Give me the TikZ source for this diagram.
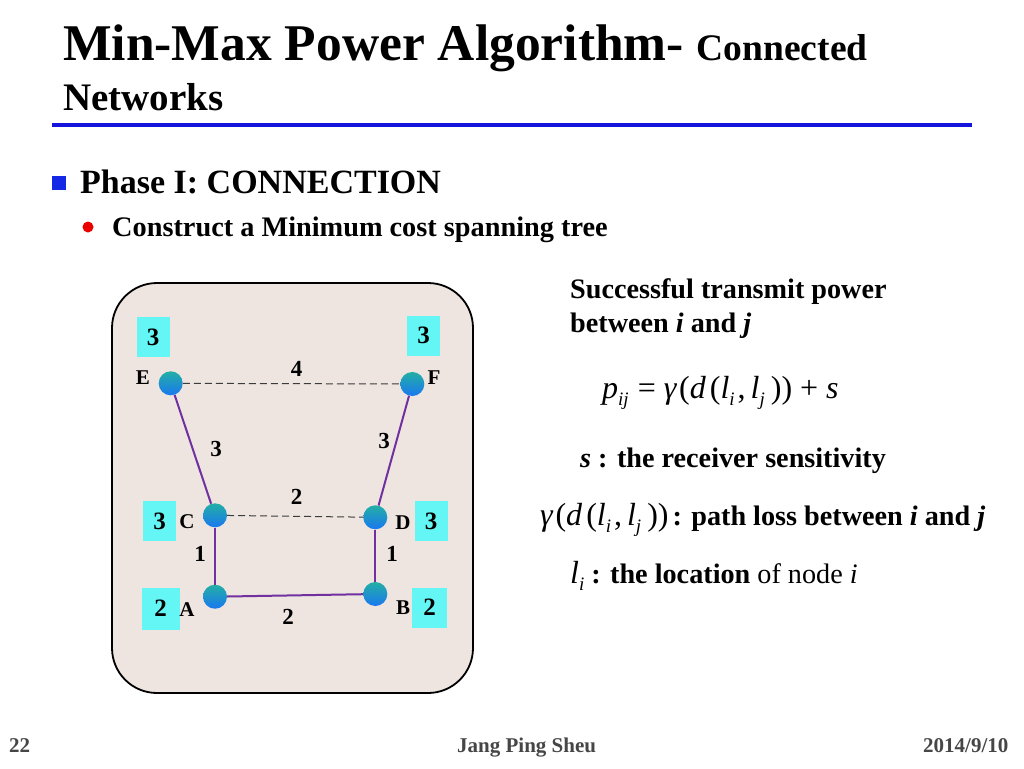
\documentclass[tikz,border=0pt]{standalone}
\usepackage{fontspec}
\setmainfont{Liberation Serif}
\definecolor{titleblue}{RGB}{20,20,220}
\definecolor{bulletblue}{RGB}{20,40,230}
\definecolor{bulletred}{RGB}{235,0,0}
\definecolor{panelfill}{RGB}{238,228,224}
\definecolor{cyanbox}{RGB}{100,245,245}
\definecolor{treepurple}{RGB}{112,48,160}
\definecolor{dashgray}{RGB}{60,60,60}
\definecolor{footgray}{RGB}{70,70,70}
\definecolor{balltop}{RGB}{35,175,165}
\definecolor{ballbot}{RGB}{25,120,240}
\newcommand{\fsz}[1]{\fontsize{#1}{#1}\selectfont}
\newcommand{\mi}[1]{\textit{#1}}
\newcommand{\lowsub}[1]{\raisebox{-7pt}{\fsz{19}\itshape #1}}
\newcommand{\gamterm}{\mi{γ}\hspace{2pt}(\mi{d}\hspace{4pt}(\mi{l}\lowsub{i}\hspace{3pt},\hspace{5pt}\mi{l}\lowsub{j}\hspace{6pt}))}
\begin{document}
\begin{tikzpicture}[x=1pt,y=-1pt,
  txt/.style={inner sep=0pt, anchor=base west},
  netnode/.style={circle, minimum size=24pt, inner sep=0pt, top color=balltop, bottom color=ballbot, draw=none},
  pbox/.style={fill=cyanbox, minimum width=33pt, minimum height=40pt, inner sep=0pt, font=\fsz{25}\bfseries},
  tree/.style={draw=treepurple, line width=2pt},
  nontree/.style={draw=dashgray, line width=1pt, dash pattern=on 7pt off 4pt},
  elabel/.style={font=\fsz{23}\bfseries, inner sep=0pt},
  nlabel/.style={font=\fsz{21}\bfseries, inner sep=0pt}]
\useasboundingbox[fill=white] (0,0) rectangle (1024,768);

% title
\node[txt] (t1) at (63,60) {\fsz{51.5}\bfseries Min-Max Power Algorithm- {\fsz{37.5}Connected}};
\node[txt] (t2) at (63,110) {\fsz{39}\bfseries Networks};
\draw[titleblue, line width=4pt] (52,125) -- (972,125);

% bullets
\node[fill=bulletblue, minimum size=14pt, inner sep=0pt] (b1) at (59,183) {};
\node[txt] (p1) at (80,193) {\fsz{34}\bfseries Phase I: CONNECTION};
\node[circle, fill=bulletred, minimum size=11pt, inner sep=0pt] (b2) at (88,227) {};
\node[txt] (p2) at (112,236) {\fsz{28.3}\bfseries Construct a Minimum cost spanning tree};

% panel
\draw[fill=panelfill, line width=1.8pt, rounded corners=45pt] (112,283) rectangle (473,693);

% power boxes
\node[pbox] (bE) at (153,337) {3};
\node[pbox] (bF) at (423.5,335.5) {3};
\node[pbox] (bC) at (159.5,521) {3};
\node[pbox] (bD) at (431,521) {3};
\node[pbox, minimum width=38pt, minimum height=42pt] (bA) at (160.5,608.5) {2};
\node[pbox, minimum width=35pt] (bB) at (429.5,607.5) {2};

% network nodes
\node[netnode] (E) at (170.7,383.3) {};
\node[netnode] (F) at (412.3,384) {};
\node[netnode] (C) at (215,515.3) {};
\node[netnode] (D) at (375.3,517.3) {};
\node[netnode] (A) at (215,596.7) {};
\node[netnode] (B) at (375.3,594) {};

% node letters
\node[nlabel] (lE) at (143,378) {E};
\node[nlabel] (lF) at (434,378) {F};
\node[nlabel] (lC) at (187,522) {C};
\node[nlabel] (lD) at (403,523) {D};
\node[nlabel] (lA) at (187,610) {A};
\node[nlabel] (lB) at (403,608) {B};

% edges
\draw[nontree] (E) -- (F);
\draw[nontree] (C) -- (D);
\draw[tree] (E) -- (C);
\draw[tree] (F) -- (D);
\draw[tree] (C) -- (A);
\draw[tree] (D) -- (B);
\draw[tree] (A) -- (B);

% edge labels
\node[elabel] (w1) at (296.7,369) {4};
\node[elabel] (w2) at (216,449) {3};
\node[elabel] (w3) at (384,441) {3};
\node[elabel] (w4) at (296.7,497) {2};
\node[elabel] (w5) at (200,554) {1};
\node[elabel] (w6) at (392,554) {1};
\node[elabel] (w7) at (288,617) {2};

% right text
\node[txt] (r1) at (570,298) {\fsz{28.2}\bfseries Successful transmit power};
\node[txt] (r2) at (570,332) {\fsz{28.2}\bfseries between \textit{i} and \textit{j}};
\node[txt] (eq) at (602,398) {\fsz{32}\mi{p}\lowsub{ij}\hspace{9pt}=\hspace{8pt}\gamterm\hspace{8pt}+\hspace{8pt}\mi{s}};
\node[txt] (r3) at (580,467) {\fsz{28.2}\bfseries \textit{s} : the receiver sensitivity};
\node[txt] (r4) at (540,525) {{\fsz{32}\gamterm}\hspace{4pt}{\fsz{28.2}\bfseries : path loss between \textit{i} and \textit{j}}};
\node[txt] (r5) at (570,583) {{\fsz{32}\mi{l}\lowsub{i}}\hspace{7pt}{\fsz{28.2}\textbf{: the location} of node \textit{i}}};

% footer
\node[txt, text=footgray] (f1) at (9,752) {\fsz{21}\bfseries 22};
\node[txt, text=footgray] (f2) at (457,752) {\fsz{21}\bfseries Jang Ping Sheu};
\node[txt, text=footgray] (f3) at (923,752) {\fsz{21}\bfseries 2014/9/10};
\end{tikzpicture}
\end{document}
